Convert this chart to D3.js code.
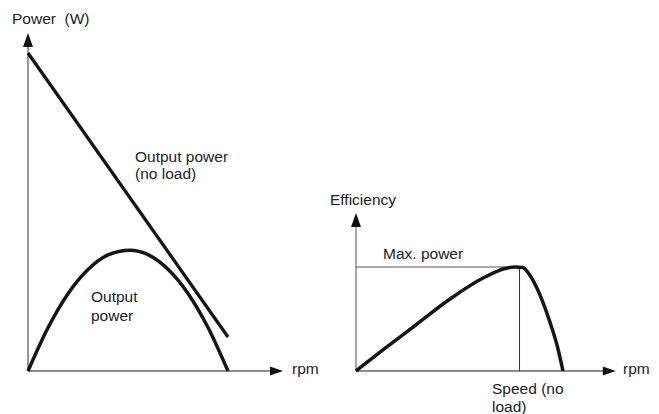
<!DOCTYPE html>
<html>
<head>
<meta charset="utf-8">
<script src="https://cdn.jsdelivr.net/npm/d3@7"></script>
<style>
  html, body { margin: 0; padding: 0; background: #fff; }
  svg { display: block; }
  text { font-family: "Liberation Sans", Arial, sans-serif; font-size: 15.5px; fill: #222; white-space: pre; }
</style>
</head>
<body>
<svg id="chart" width="659" height="414"></svg>
<script>
// ---- Data (normalized units) ----
// Left chart: power vs rpm (rpm 0..100 = no-load speed, power 0..100 = stall intercept)
const rpmNoLoad   = [0, 100];
const powerNoLoad = [100, 10.7];
const rpmOut   = [0, 10, 20, 30, 40, 51, 60, 70, 80, 90, 100];
const powerOut = [0, 13.6, 24.3, 31.9, 36.5, 38, 36.6, 32, 24.4, 13.7, 0];
// Right chart: efficiency vs rpm
const rpmEff = [0, 13, 29.5, 45.4, 61.4, 72, 77, 80.5, 84, 88.9, 93.7, 97.1, 100];
const eff    = [0, 20.2, 45.2, 69.2, 89.4, 98.6, 100, 99.5, 92, 73, 47, 25, 0];
const maxPowerRpm = 79;
const maxEff = 100;

const svg = d3.select("#chart");

// ---- Left chart scales ----
const xL = d3.scaleLinear().domain([0, 100]).range([28, 228]);
const yL = d3.scaleLinear().domain([0, 100]).range([371, 53]);
const xLmax = 127.5, yLmax = 106.3;

// ---- Right chart scales ----
const xR = d3.scaleLinear().domain([0, 100]).range([356, 563]);
const yR = d3.scaleLinear().domain([0, 100]).range([371, 267]);
const xRmax = 125.5, yRmax = 152;

function arrowRight(x, y) {
  svg.append("path").attr("d", `M${x},${y} L${x-13},${y-4.5} L${x-13},${y+4.5} Z`).attr("fill", "#111");
}
function arrowUp(x, y) {
  svg.append("path").attr("d", `M${x},${y} L${x-5},${y+14} L${x+5},${y+14} Z`).attr("fill", "#111");
}

// Left axes
svg.append("line").attr("x1", xL(0)).attr("x2", xL(0)).attr("y1", yL(0)).attr("y2", yL(yLmax) + 12)
  .attr("stroke", "#333").attr("stroke-width", 1);
svg.append("line").attr("x1", xL(0)).attr("x2", xL(xLmax) - 11).attr("y1", yL(0)).attr("y2", yL(0))
  .attr("stroke", "#8a8a8a").attr("stroke-width", 2);
arrowUp(xL(0), yL(yLmax));
arrowRight(xL(xLmax), yL(0));

// Right axes
svg.append("line").attr("x1", xR(0)).attr("x2", xR(0)).attr("y1", yR(0)).attr("y2", yR(yRmax) + 12)
  .attr("stroke", "#555").attr("stroke-width", 1);
svg.append("line").attr("x1", xR(0)).attr("x2", xR(xRmax) - 11).attr("y1", yR(0)).attr("y2", yR(0))
  .attr("stroke", "#666").attr("stroke-width", 1.3);
arrowUp(xR(0), yR(yRmax));
arrowRight(xR(xRmax), yR(0));

// Max power guide lines
svg.append("line").attr("x1", xR(0)).attr("x2", xR(maxPowerRpm)).attr("y1", yR(maxEff)).attr("y2", yR(maxEff))
  .attr("stroke", "#555").attr("stroke-width", 1);
svg.append("line").attr("x1", xR(maxPowerRpm)).attr("x2", xR(maxPowerRpm)).attr("y1", yR(maxEff)).attr("y2", yR(0))
  .attr("stroke", "#333").attr("stroke-width", 1);

// Curves
const lineNL = d3.line().x((d, i) => xL(rpmNoLoad[i])).y(d => yL(d));
svg.append("path").attr("d", lineNL(powerNoLoad)).attr("fill", "none")
  .attr("stroke", "#151515").attr("stroke-width", 3.3);

const lineOut = d3.line().x((d, i) => xL(rpmOut[i])).y(d => yL(d)).curve(d3.curveMonotoneX);
svg.append("path").attr("d", lineOut(powerOut)).attr("fill", "none")
  .attr("stroke", "#151515").attr("stroke-width", 3.5);

const lineEff = d3.line().x((d, i) => xR(rpmEff[i])).y(d => yR(d)).curve(d3.curveMonotoneX);
svg.append("path").attr("d", lineEff(eff)).attr("fill", "none")
  .attr("stroke", "#151515").attr("stroke-width", 3.5);

// Labels
const labels = [
  ["Power  (W)", 12, 24],
  ["Output power", 135, 162],
  ["(no load)", 135, 179],
  ["Output", 91, 302],
  ["power", 91, 321],
  ["rpm", 292, 374],
  ["Efficiency", 330, 205],
  ["Max. power", 383, 259],
  ["Speed (no", 492, 394],
  ["load)", 492, 412],
  ["rpm", 623, 374]
];
svg.selectAll("text.lbl").data(labels).join("text").attr("class", "lbl")
  .attr("x", d => d[1]).attr("y", d => d[2]).text(d => d[0]);
</script>
</body>
</html>
